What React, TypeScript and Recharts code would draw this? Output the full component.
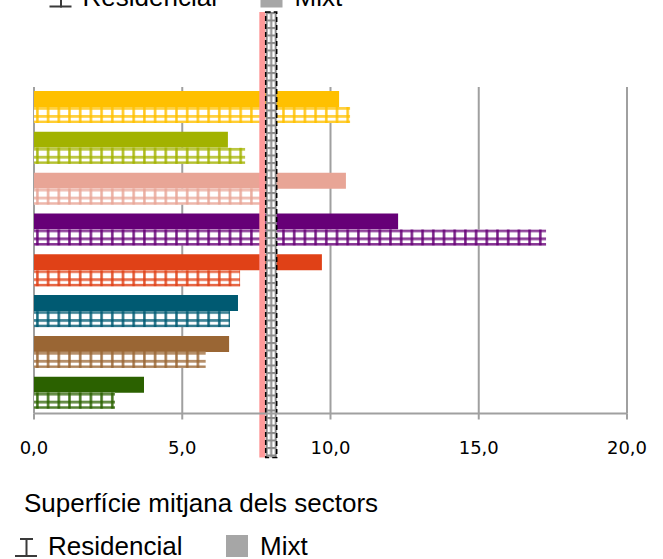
import React from 'react';
import { Bar, BarChart, CartesianGrid, Cell, ReferenceLine, XAxis, YAxis } from 'recharts';

// superfície mitjana per sector: barra plena = mixt, barra quadriculada = residencial
const sectors = ['S1', 'S2', 'S3', 'S4', 'S5', 'S6', 'S7', 'S8'];
const mixtValues = [10.29, 6.54, 10.52, 12.28, 9.71, 6.88, 6.58, 3.71];
const residencialValues = [10.66, 7.12, 8.1, 17.27, 6.95, 6.61, 5.79, 2.73];
const sectorColors = ['#FFC000', '#A2B200', '#E8A596', '#660077', '#E04117', '#005A72', '#9A6634', '#2B6100'];
const xTicks = [0, 5, 10, 15, 20];
const mitjanaMixt = 7.7;
const mitjanaResidencial = 8.0;

const data = sectors.map((sector, i) => ({
  sector,
  mixt: mixtValues[i],
  residencial: residencialValues[i],
}));

const GRID = '#A0A0A0';
const LABEL_FONT = '"Liberation Sans", Arial, sans-serif';

const fmt = (v: number) => v.toFixed(1).replace('.', ',');

function HatchedBar(props: any) {
  const { x, y, width, height, payload } = props;
  if (!width || width <= 0) return null;
  const color = sectorColors[sectors.indexOf(payload.sector)];
  const id = `hatch-${payload.sector}`;
  return (
    <g>
      <defs>
        <pattern id={id} patternUnits='userSpaceOnUse' x={x + 2} y={y} width={10.7} height={8}>
          <rect width={10.7} height={8} fill='#fff' />
          <rect x={0} y={0} width={10.7} height={2.8} fill={color} opacity={0.75} />
          <rect x={0} y={0} width={2.8} height={8} fill={color} opacity={0.75} />
          <rect x={0.9} y={0} width={1} height={8} fill={color} opacity={0.6} />
        </pattern>
      </defs>
      <rect x={x} y={y} width={width} height={height} fill={`url(#${id})`} />
      <rect x={x} y={y + height - 2.4} width={width} height={2.4} fill={color} opacity={0.8} />
    </g>
  );
}

// the two average markers run past the plot area, top and bottom
function MixtLine(p: any) {
  const top = Math.min(p.y1, p.y2) - 75;
  const bottom = Math.max(p.y1, p.y2) + 44;
  return <rect x={p.x1 - 3} y={top} width={6} height={bottom - top} fill='#FF9999' />;
}

function ResidencialBox(p: any) {
  const top = Math.min(p.y1, p.y2) - 75;
  const bottom = Math.max(p.y1, p.y2) + 44;
  const left = p.x1 - 5.5;
  return (
    <g>
      <defs>
        <pattern id='hatch-mitjana' patternUnits='userSpaceOnUse' x={left} y={top} width={11} height={7.5}>
          <rect width={11} height={7.5} fill='#fff' />
          <rect x={0} y={0} width={11} height={2} fill='#8a8a8a' />
          <rect x={4.5} y={0} width={2} height={7.5} fill='#8a8a8a' />
          <rect x={0} y={0} width={2} height={7.5} fill='#8a8a8a' />
          <rect x={9} y={0} width={2} height={7.5} fill='#8a8a8a' />
        </pattern>
      </defs>
      <rect
        x={left}
        y={top}
        width={11}
        height={bottom - top}
        fill='url(#hatch-mitjana)'
        stroke='#000'
        strokeWidth={1.5}
        strokeDasharray='5 3'
      />
    </g>
  );
}

function LegendRow({ dx, baseline }: { dx: number; baseline: number }) {
  const b = baseline;
  return (
    <g transform={`translate(${dx},0)`}>
      <rect x={20} y={b - 17} width={13} height={2} fill='#3a3a3a' />
      <rect x={25.5} y={b - 17} width={2} height={19} fill='#3a3a3a' />
      <rect x={15} y={b} width={22} height={2} fill='#3a3a3a' />
      <text x={48} y={b} fontSize={26} fontFamily={LABEL_FONT} fill='#000'>
        Residencial
      </text>
      <rect x={226} y={b - 20} width={22} height={22} fill='#A6A6A6' />
      <text x={260} y={b} fontSize={26} fontFamily={LABEL_FONT} fill='#000'>
        Mixt
      </text>
    </g>
  );
}

export default function App() {
  return (
    <div style={{ position: 'absolute', left: 0, top: 0, width: 663, height: 559, background: '#fff' }}>
      <BarChart
        width={663}
        height={559}
        data={data}
        layout='vertical'
        margin={{ top: 87, right: 36, bottom: 105.5, left: 34 }}
        barGap={0}
      >
        <CartesianGrid horizontal={false} stroke={GRID} strokeWidth={2} />
        <XAxis
          type='number'
          domain={[0, 20]}
          ticks={xTicks}
          interval={0}
          tickFormatter={fmt}
          height={40}
          tickSize={6}
          tickMargin={22}
          axisLine={{ stroke: GRID, strokeWidth: 2 }}
          tickLine={{ stroke: GRID, strokeWidth: 2 }}
          tick={{ fill: '#000', fontSize: 18, fontFamily: '"DejaVu Sans", sans-serif' }}
        />
        <YAxis type='category' dataKey='sector' hide />
        <Bar dataKey='mixt' barSize={16} isAnimationActive={false}>
          {data.map((d, i) => (
            <Cell key={d.sector} fill={sectorColors[i]} />
          ))}
        </Bar>
        <Bar dataKey='residencial' barSize={16} shape={HatchedBar} isAnimationActive={false} />
        <ReferenceLine x={mitjanaMixt} shape={MixtLine} />
        <ReferenceLine x={mitjanaResidencial} shape={ResidencialBox} />
      </BarChart>
      <svg
        width={663}
        height={559}
        style={{ position: 'absolute', left: 0, top: 0, pointerEvents: 'none' }}
      >
        <LegendRow dx={34.5} baseline={5.5} />
        <text x={24} y={512} fontSize={26} fontFamily={LABEL_FONT} fill='#000'>
          Superfície mitjana dels sectors
        </text>
        <LegendRow dx={0} baseline={555} />
      </svg>
    </div>
  );
}
